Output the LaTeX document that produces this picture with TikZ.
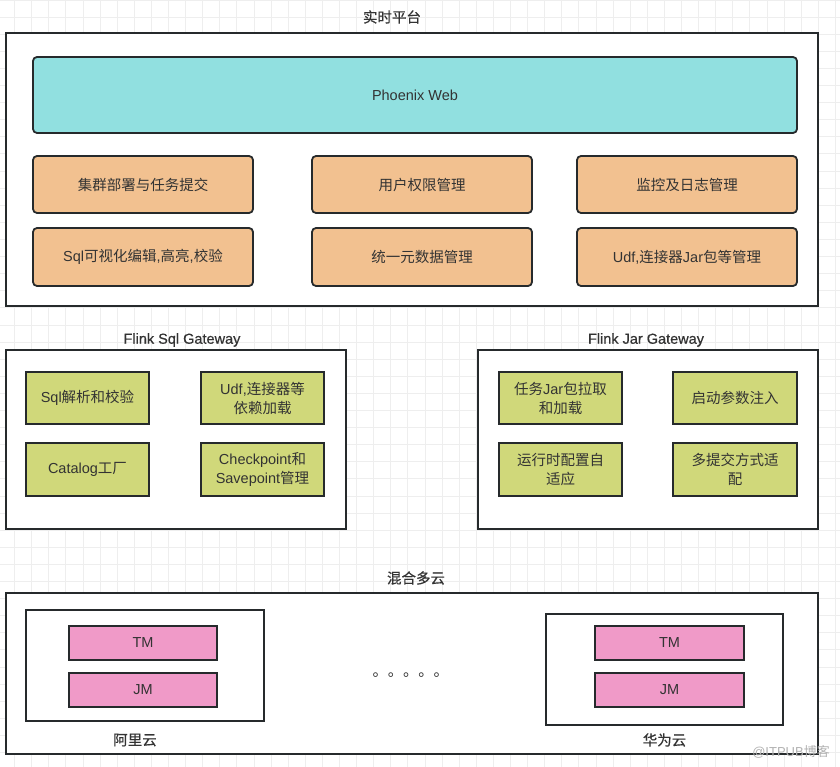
\documentclass[tikz,border=0pt]{standalone}
\usepackage{fontspec}
\setmainfont{Liberation Sans}
\newfontfamily\latreg{Liberation Sans}
\newfontfamily\latbf{Liberation Sans}[FakeBold=0.5]
\newfontfamily\cjkreg{Noto Sans CJK SC}
\newfontfamily\cjkbf{Noto Sans CJK SC}[FakeBold=0.5]
\let\cjkcur\cjkreg
\let\latcur\latreg
\XeTeXinterchartokenstate=1
\newXeTeXintercharclass\cjkclass
\count255="3000
\loop\ifnum\count255<"A000 \XeTeXcharclass\count255=\cjkclass \advance\count255 by 1 \repeat
\count255="FF00
\loop\ifnum\count255<"FFF0 \XeTeXcharclass\count255=\cjkclass \advance\count255 by 1 \repeat
\XeTeXinterchartoks 0 \cjkclass = {\cjkcur}
\XeTeXinterchartoks 4095 \cjkclass = {\cjkcur}
\XeTeXinterchartoks \cjkclass 0 = {\latcur}
\XeTeXinterchartoks \cjkclass 4095 = {\latcur}
\newcommand\myboxfont{\fontsize{14.5}{19}\latreg}
\newcommand\mytitlefont{\let\cjkcur\cjkbf\let\latcur\latbf\fontsize{14.5}{17}\latbf}
\definecolor{linec}{HTML}{262A2C}
\definecolor{textc}{HTML}{333333}
\definecolor{gridc}{HTML}{EEEEEE}
\definecolor{cyanc}{HTML}{91E0E0}
\definecolor{orangec}{HTML}{F2C190}
\definecolor{greenc}{HTML}{D0D87A}
\definecolor{pinkc}{HTML}{F09AC8}
\tikzset{
  container/.style={draw=linec, line width=1.8pt, fill=white, inner sep=0pt},
  rbox/.style={draw=linec, line width=1.8pt, rounded corners=4pt, text=textc, font=\myboxfont, align=center, inner sep=0pt},
  sbox/.style={draw=linec, line width=1.8pt, text=textc, font=\myboxfont, align=center, inner sep=0pt},
  titletext/.style={text=textc, font=\mytitlefont, inner sep=0pt},
  gridline/.style={draw=gridc, line width=0.8pt},
}
\begin{document}
\begin{tikzpicture}[x=1pt,y=-1pt]
\useasboundingbox (0,0) rectangle (840,767);
\fill[white] (0,0) rectangle (840,767);
\foreach \i in {0,...,48} \draw[gridline] (14.5+17.1*\i,0) -- ++(0,767);
\foreach \j in {0,...,45} \draw[gridline] (0,17.1*\j) -- ++(840,0);

% top platform
\node[titletext] (t1) at (392,17) {实时平台};
\node[container, minimum width=812pt, minimum height=273pt] (plat) at (412,169.5) {};
\node[rbox, fill=cyanc, minimum width=764pt, minimum height=76pt] (web) at (415,95) {Phoenix Web};
\node[rbox, fill=orangec, minimum width=220pt, minimum height=57pt] (o1) at (143,184.5) {集群部署与任务提交};
\node[rbox, fill=orangec, minimum width=220pt, minimum height=57pt] (o2) at (422,184.5) {用户权限管理};
\node[rbox, fill=orangec, minimum width=220pt, minimum height=57pt] (o3) at (687,184.5) {监控及日志管理};
\node[rbox, fill=orangec, minimum width=220pt, minimum height=58pt] (o4) at (143,257) {Sql可视化编辑,高亮,校验};
\node[rbox, fill=orangec, minimum width=220pt, minimum height=58pt] (o5) at (422,257) {统一元数据管理};
\node[rbox, fill=orangec, minimum width=220pt, minimum height=58pt] (o6) at (687,257) {Udf,连接器Jar包等管理};

% gateways
\node[titletext] (t2) at (182,340) {Flink Sql Gateway};
\node[container, minimum width=340pt, minimum height=179pt] (sqlgw) at (176,439.5) {};
\node[sbox, fill=greenc, minimum width=123pt, minimum height=52pt] (g1) at (87.5,398) {Sql解析和校验};
\node[sbox, fill=greenc, minimum width=123pt, minimum height=52pt] (g2) at (262.5,398) {Udf,连接器等\\依赖加载};
\node[sbox, fill=greenc, minimum width=123pt, minimum height=53pt] (g3) at (87.5,469.5) {Catalog工厂};
\node[sbox, fill=greenc, minimum width=123pt, minimum height=53pt] (g4) at (262.5,469.5) {Checkpoint和\\Savepoint管理};

\node[titletext] (t3) at (646,340) {Flink Jar Gateway};
\node[container, minimum width=340pt, minimum height=179pt] (jargw) at (648,439.5) {};
\node[sbox, fill=greenc, minimum width=123pt, minimum height=52pt] (j1) at (560.5,398) {任务Jar包拉取\\和加载};
\node[sbox, fill=greenc, minimum width=124pt, minimum height=52pt] (j2) at (735,398) {启动参数注入};
\node[sbox, fill=greenc, minimum width=123pt, minimum height=53pt] (j3) at (560.5,469.5) {运行时配置自\\适应};
\node[sbox, fill=greenc, minimum width=124pt, minimum height=53pt] (j4) at (735,469.5) {多提交方式适\\配};

% hybrid cloud
\node[titletext] (t4) at (416,578) {混合多云};
\node[container, minimum width=812pt, minimum height=161pt] (cloud) at (412,673.5) {};
\node[container, minimum width=238pt, minimum height=111pt] (ali) at (145,665.5) {};
\node[sbox, fill=pinkc, minimum width=148pt, minimum height=34pt] (tm1) at (143,643) {TM};
\node[sbox, fill=pinkc, minimum width=148pt, minimum height=34pt] (jm1) at (143,690) {JM};
\node[titletext] (l1) at (135,740) {阿里云};
\node[container, minimum width=237pt, minimum height=111pt] (hw) at (664.5,669.5) {};
\node[sbox, fill=pinkc, minimum width=149pt, minimum height=34pt] (tm2) at (669.5,643) {TM};
\node[sbox, fill=pinkc, minimum width=149pt, minimum height=34pt] (jm2) at (669.5,690) {JM};
\node[titletext] (l2) at (664.5,740) {华为云};
\node[text=textc, font=\fontsize{15.25}{17}\cjkreg, inner sep=0pt, anchor=base west] (dots) at (372.5,676) {。。。。。};

\node[text=black!30, font=\fontsize{13}{15}\latreg, inner sep=0pt] (wm) at (791,752) {@ITPUB博客};
\end{tikzpicture}
\end{document}
